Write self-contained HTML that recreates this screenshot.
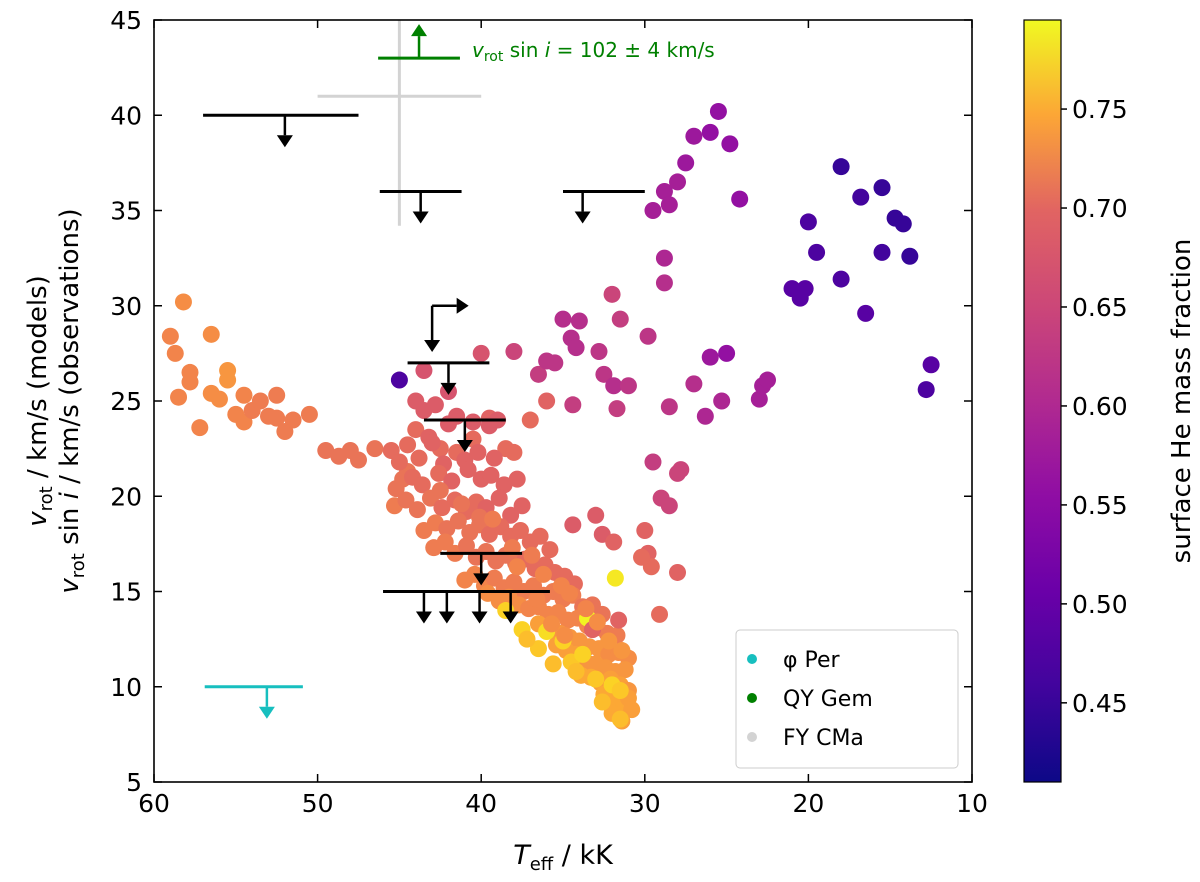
<!DOCTYPE html>
<html><head><meta charset="utf-8"><style>
body{margin:0;background:#fff;font-family:"Liberation Sans","DejaVu Sans",sans-serif}
svg text{font-family:"DejaVu Sans","Liberation Sans",sans-serif}
</style></head><body>
<svg id="chart" width="1200" height="877" viewBox="0 0 1200 877">
<defs><linearGradient id="cb" x1="0" y1="1" x2="0" y2="0">
<stop offset="0" stop-color="#0d0887"/><stop offset="0.125" stop-color="#41049d"/><stop offset="0.25" stop-color="#6a00a8"/><stop offset="0.375" stop-color="#8f0da4"/><stop offset="0.5" stop-color="#b12a90"/><stop offset="0.625" stop-color="#cc4778"/><stop offset="0.75" stop-color="#e16462"/><stop offset="0.875" stop-color="#fca636"/><stop offset="1" stop-color="#f0f921"/></linearGradient>
</defs>
<g id="points"></g>
<g id="ann"></g>
<rect x="154" y="20" width="818" height="762" fill="none" stroke="#000" stroke-width="1.6"/>
<g id="axes"></g>
<text x="563" y="864" font-size="27" text-anchor="middle"><tspan font-style="italic">T</tspan><tspan font-size="18" dy="6">eff</tspan><tspan dy="-6"> / kK</tspan></text>
<text transform="translate(46,401) rotate(-90)" font-size="26" text-anchor="middle"><tspan font-style="italic">v</tspan><tspan font-size="18" dy="6">rot</tspan><tspan dy="-6"> / km/s (models)</tspan></text>
<text transform="translate(78,401) rotate(-90)" font-size="26" text-anchor="middle"><tspan font-style="italic">v</tspan><tspan font-size="18" dy="6">rot</tspan><tspan dy="-6"> sin </tspan><tspan font-style="italic">i</tspan><tspan> / km/s (observations)</tspan></text>
<g>
<rect x="736" y="630" width="222" height="138" rx="4" fill="#fff" fill-opacity="0.85" stroke="#ccc"/>
<circle cx="752" cy="659" r="5" fill="#17bfbf"/>
<text x="783" y="667" font-size="22">φ Per</text>
<circle cx="752" cy="698" r="5" fill="#008000"/>
<text x="783" y="706" font-size="22">QY Gem</text>
<circle cx="752" cy="737" r="5" fill="#d3d3d3"/>
<text x="783" y="745" font-size="22">FY CMa</text>
</g>
<rect x="1024" y="20" width="37" height="762" fill="url(#cb)" stroke="#000" stroke-width="1.2"/>
<g id="cbticks"></g>
<text transform="translate(1190,401) rotate(-90)" font-size="26" text-anchor="middle">surface He mass fraction</text>
</svg>
<script>
const teff=[59,58.7,58.2,57.8,57.8,58.5,57.2,56.5,56.5,56,55.5,55.5,55,54.5,54.5,54,53.5,53,52.5,52.5,52,51.5,50.5,49.5,48.7,48,47.5,46.5,45.5,44.5,44,43.2,42.5,41.5,40.5,39.5,38.5,38,37,36,
44,43.5,42.8,42,41.5,40.5,39.5,39,43,42,44.5,45,43.8,42.3,41,40.2,39.2,45.2,44.8,44.2,43.6,42.6,41.8,40.8,40,39.4,38.6,37.8,45.3,44.6,43.9,43.1,42.4,41.6,40.9,40.3,39.7,38.9,38.2,37.5,
43.5,42.8,42.1,41.4,40.7,40.1,39.5,38.8,38.2,37.6,37,36.4,35.8,42.9,42.2,41.6,40.9,40.3,39.7,39.1,38.5,37.9,37.3,36.7,36.1,35.5,34.9,34.3,
41,40.4,39.8,39.2,38.6,38,37.4,36.8,36.2,35.6,35,34.4,33.8,33.2,32.6,39.6,38.9,38.3,37.7,37.1,36.5,35.9,35.3,34.7,34.1,33.5,32.9,32.3,31.7,
36.5,35.8,35.2,34.6,34,33.4,32.8,32.2,31.6,31,35.4,34.8,34.2,33.6,33,32.4,31.8,31.2,33.9,33.3,32.7,32.1,31.5,31,32.5,31.9,31.3,31,30.8,31.4,32,
38.5,37.5,36.5,36,35,34.5,33.8,33,32,31.5,31.8,33.5,31.5,37.2,35.6,34.2,32.6,
34.4,33,32.6,31.9,30,29.8,29.6,30.2,28,29.1,33.2,31.6,
42.5,41.2,40.1,39.3,38.1,36.9,36.2,35.1,34.6,33.6,32.9,32.2,31.4,37.8,36.6,35.7,34.9,
29.5,28.8,28,28.5,27.5,27,26,25.5,24.8,24.2,28.8,28.8,29.8,26,25,32,31.5,32.8,32.5,31.9,31.7,31,28.5,27,26.3,25.3,23,22.8,22.5,29.5,29,28.5,28,27.8,35,34,35.5,34.5,34.2,36.5,36,38,34.4,40,43.5,
18,15.5,16.8,14.7,14.2,13.8,15.5,20,19.5,18,21,20.2,20.5,16.5,12.5,12.8,45];
const vrot=[28.4,27.5,30.2,26.5,26,25.2,23.6,28.5,25.4,25.1,26.6,26.1,24.3,23.9,25.3,24.5,25,24.2,25.3,24.1,23.4,24,24.3,22.4,22.1,22.4,21.9,22.5,22.4,22.7,23.5,23.1,22.5,22.3,23,24.1,22.5,22.3,24,25,
25,24.5,24.8,25.5,24.2,23.9,23.7,24,22.8,23.8,21.3,21.8,22,21.7,21.9,22.3,22,20.4,20.9,21,20.6,21.2,20.8,21.4,20.9,21.1,20.6,20.9,19.5,19.8,19.3,19.9,19.4,19.8,19.2,19.7,19.4,19.9,19,19.5,
18.2,18.6,18.3,18.7,18.1,18.5,18,18.4,17.9,18.2,17.6,17.9,17.2,17.3,17.6,17,17.4,16.8,17.1,16.6,16.9,16.5,16.7,16.2,16.4,16,15.8,15.4,
15.6,15.9,15.3,15.7,15.2,15.5,15,15.3,14.8,15,14.6,14.8,14.2,14.3,13.8,14.9,14.5,14.7,14.3,14.1,14.2,13.8,13.9,13.5,13.6,13.2,13.1,12.8,12.7,
13.3,13.1,12.8,12.6,12.4,12.1,12,11.7,11.8,11.5,12.2,11.9,11.7,11.3,11.2,11,10.8,10.9,10.6,10.5,10.2,10.4,10.1,9.8,9.6,9.3,9.1,9.4,8.8,8.2,8.6,
14,13,12,12.9,12.4,11.3,11.7,10.4,10.1,8.3,15.7,13.6,9.8,12.5,11.2,10.8,9.2,
18.5,19,18,17.6,18.2,17,16.3,16.8,16,13.8,13,13.5,
20.3,19.6,18.9,18.8,17.3,16.9,15.9,15.3,14.9,14.1,13.4,12.4,11.9,16.3,14.6,13.3,12.7,
35,36,36.5,35.3,37.5,38.9,39.1,40.2,38.5,35.6,32.5,31.2,28.4,27.3,27.5,30.6,29.3,27.6,26.4,25.8,24.6,25.8,24.7,25.9,24.2,25,25.1,25.8,26.1,21.8,19.9,19.5,21.2,21.4,29.3,29.2,27,28.3,27.8,26.4,27.1,27.6,24.8,27.5,26.6,
37.3,36.2,35.7,34.6,34.3,32.6,32.8,34.4,32.8,31.4,30.9,30.9,30.4,29.6,26.9,25.6,26.1];
const heFrac=[0.68,0.68,0.69,0.68,0.68,0.68,0.68,0.69,0.69,0.69,0.7,0.7,0.68,0.68,0.68,0.67,0.67,0.67,0.67,0.67,0.67,0.67,0.67,0.66,0.66,0.66,0.66,0.66,0.65,0.65,0.65,0.64,0.65,0.65,0.65,0.64,0.65,0.65,0.65,0.64,
0.63,0.63,0.63,0.62,0.63,0.63,0.63,0.63,0.64,0.63,0.66,0.65,0.65,0.64,0.64,0.64,0.64,0.66,0.66,0.65,0.65,0.65,0.64,0.64,0.64,0.64,0.64,0.64,0.67,0.66,0.66,0.66,0.65,0.65,0.65,0.65,0.64,0.64,0.64,0.64,
0.67,0.67,0.66,0.66,0.66,0.66,0.65,0.65,0.65,0.65,0.65,0.65,0.65,0.67,0.67,0.67,0.66,0.66,0.66,0.66,0.66,0.66,0.65,0.65,0.65,0.65,0.65,0.65,
0.68,0.68,0.68,0.67,0.67,0.67,0.67,0.67,0.67,0.67,0.67,0.67,0.66,0.66,0.66,0.69,0.69,0.69,0.69,0.68,0.68,0.68,0.68,0.68,0.68,0.68,0.67,0.67,0.67,
0.71,0.71,0.7,0.7,0.7,0.7,0.7,0.69,0.69,0.69,0.71,0.71,0.71,0.7,0.7,0.7,0.7,0.7,0.72,0.72,0.71,0.71,0.71,0.7,0.72,0.72,0.72,0.71,0.71,0.71,0.72,
0.76,0.76,0.75,0.77,0.76,0.75,0.76,0.75,0.76,0.74,0.78,0.79,0.75,0.74,0.74,0.74,0.74,
0.63,0.63,0.63,0.64,0.64,0.64,0.65,0.65,0.64,0.65,0.64,0.64,
0.66,0.66,0.66,0.67,0.67,0.67,0.68,0.68,0.68,0.68,0.69,0.7,0.7,0.68,0.68,0.69,0.69,
0.55,0.55,0.55,0.55,0.54,0.54,0.53,0.53,0.53,0.53,0.56,0.57,0.58,0.54,0.53,0.6,0.59,0.58,0.58,0.57,0.59,0.58,0.58,0.57,0.56,0.56,0.55,0.55,0.55,0.59,0.6,0.6,0.6,0.6,0.57,0.57,0.58,0.57,0.57,0.59,0.58,0.6,0.59,0.62,0.62,
0.44,0.44,0.45,0.44,0.44,0.44,0.45,0.46,0.46,0.46,0.47,0.47,0.47,0.47,0.47,0.46,0.46];
const xTicks=[60,50,40,30,20,10];
const yTicks=[5,10,15,20,25,30,35,40,45];
const cbTicks=[0.45,0.5,0.55,0.6,0.65,0.7,0.75];
const X=t=>154+(60-t)*16.36, Y=v=>782-(v-5)*19.05;
const cmin=0.41,cmax=0.795, CY=c=>782-(c-cmin)/(cmax-cmin)*762;
const NS="http://www.w3.org/2000/svg";
const stops=[[13,8,135],[65,4,157],[106,0,168],[143,13,164],[177,42,144],[204,71,120],[225,100,98],[242,132,75],[252,166,54],[252,206,37],[240,249,33]];
function cmap(c){let f=Math.max(0,Math.min(1,(c-cmin)/(cmax-cmin)))*(stops.length-1);let i=Math.min(Math.floor(f),stops.length-2),r=f-i;const a=stops[i],b=stops[i+1];return`rgb(${a.map((v,k)=>Math.round(v+(b[k]-v)*r)).join(',')})`;}
function mk(tag,attrs,parent){const e=document.createElementNS(NS,tag);for(const k in attrs)e.setAttribute(k,attrs[k]);parent.appendChild(e);return e;}
const pg=document.getElementById('points');
teff.forEach((t,i)=>{const c=mk('circle',{cx:X(t),cy:Y(vrot[i]),r:8.5,fill:cmap(heFrac[i])},pg);

});
const ax=document.getElementById('axes');
xTicks.forEach(t=>{mk('line',{x1:X(t),x2:X(t),y1:782,y2:774,stroke:'#000','stroke-width':1.5},ax);mk('line',{x1:X(t),x2:X(t),y1:20,y2:28,stroke:'#000','stroke-width':1.5},ax);
const tx=mk('text',{x:X(t),y:812,'font-size':25,'text-anchor':'middle'},ax);tx.textContent=t;

});
yTicks.forEach(v=>{mk('line',{x1:154,x2:162,y1:Y(v),y2:Y(v),stroke:'#000','stroke-width':1.5},ax);mk('line',{x1:972,x2:964,y1:Y(v),y2:Y(v),stroke:'#000','stroke-width':1.5},ax);
const tx=mk('text',{x:142,y:Y(v)+9,'font-size':25,'text-anchor':'end'},ax);tx.textContent=v;

});
const cg=document.getElementById('cbticks');
cbTicks.forEach(c=>{mk('line',{x1:1061,x2:1067,y1:CY(c),y2:CY(c),stroke:'#000','stroke-width':1.5},cg);
const tx=mk('text',{x:1072,y:CY(c)+9,'font-size':25},cg);tx.textContent=c.toFixed(2);

});
const limits=[[57,47.5,40,[52],'#000'],[46.2,41.2,36,[43.7],'#000'],[35,30,36,[33.8],'#000'],[44.5,39.5,27,[42],'#000'],[43.5,38.5,24,[41],'#000'],[42.5,37.5,17,[40],'#000'],[46,35.8,15,[43.5,42.1,40.1,38.2],'#000'],[56.9,50.9,10,[53.1],'#17bfbf']];
const an=document.getElementById('ann');
mk('line',{x1:X(45),x2:X(45),y1:20,y2:Y(34.2),stroke:'#d3d3d3','stroke-width':3},an);
mk('line',{x1:X(50),x2:X(40),y1:Y(41),y2:Y(41),stroke:'#d3d3d3','stroke-width':3},an);
limits.forEach(l=>{mk('line',{x1:X(l[0]),x2:X(l[1]),y1:Y(l[2]),y2:Y(l[2]),stroke:l[4],'stroke-width':3},an);
l[3].forEach(a=>{mk('line',{x1:X(a),x2:X(a),y1:Y(l[2]),y2:Y(l[2])+20,stroke:l[4],'stroke-width':2.5},an);
mk('path',{d:`M${X(a)-8},${Y(l[2])+20}L${X(a)+8},${Y(l[2])+20}L${X(a)},${Y(l[2])+32}z`,fill:l[4]},an);});});
mk('line',{x1:X(43),x2:X(43),y1:Y(30),y2:Y(28.2),stroke:'#000','stroke-width':2.5},an);
mk('path',{d:`M${X(43)-8},${Y(28.2)}L${X(43)+8},${Y(28.2)}L${X(43)},${Y(28.2)+12}z`},an);
mk('line',{x1:X(43),x2:X(41.5),y1:Y(30),y2:Y(30),stroke:'#000','stroke-width':2.5},an);
mk('path',{d:`M${X(41.5)},${Y(30)-8}L${X(41.5)},${Y(30)+8}L${X(41.5)+12},${Y(30)}z`},an);
mk('line',{x1:X(46.3),x2:X(41.3),y1:Y(43),y2:Y(43),stroke:'#008000','stroke-width':3},an);
mk('line',{x1:X(43.8),x2:X(43.8),y1:Y(43),y2:Y(43)-22,stroke:'#008000','stroke-width':2.5},an);
mk('path',{d:`M${X(43.8)-8},${Y(43)-22}L${X(43.8)+8},${Y(43)-22}L${X(43.8)},${Y(43)-34}z`,fill:'#008000'},an);
const gt=mk('text',{x:472,y:57,'font-size':20,fill:'#008000'},an);
gt.innerHTML='<tspan font-style="italic">v</tspan><tspan font-size="14" dy="4">rot</tspan><tspan dy="-4"> sin </tspan><tspan font-style="italic">i</tspan><tspan> = 102 ± 4 km/s</tspan>';


</script>
</body></html>
